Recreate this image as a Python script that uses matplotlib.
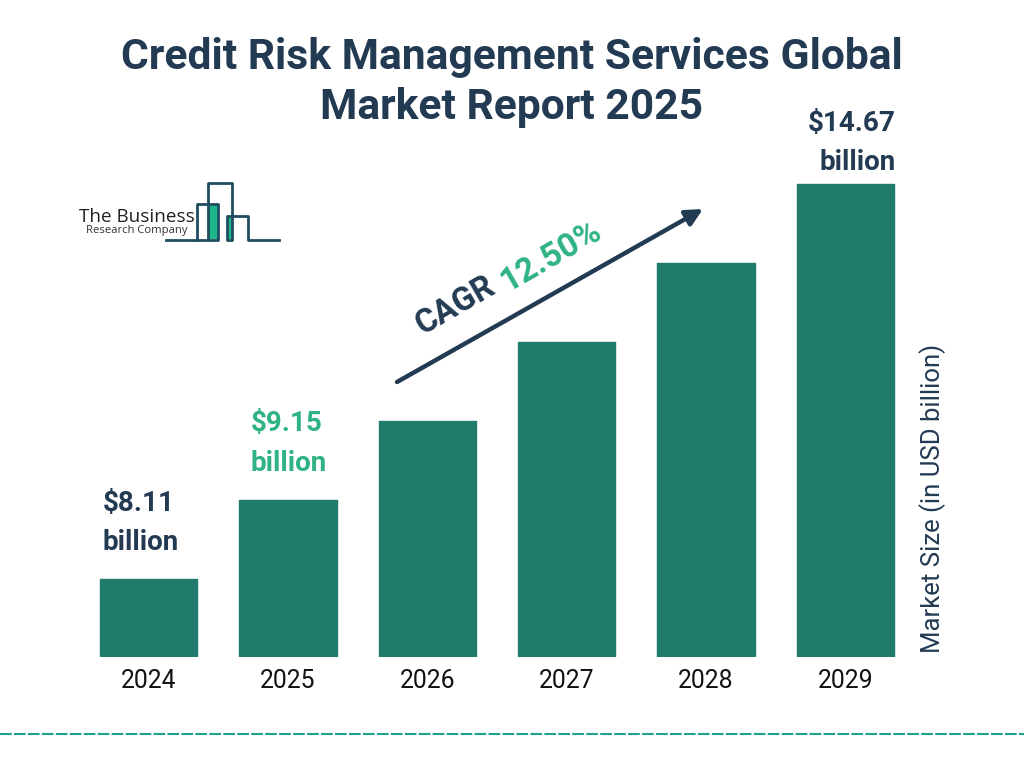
import matplotlib
matplotlib.use("Agg")
import matplotlib.pyplot as plt

plt.rcParams['font.family'] = ['Roboto', 'DejaVu Sans']

years = ['2024', '2025', '2026', '2027', '2028', '2029']
bar_heights = [78, 157, 236, 315, 394, 473]
value_first = ['$8.11', '$9.15', '$14.67']
value_second = ['billion', 'billion', 'billion']
label_colors = ['#233A53', '#2FB383', '#233A53']

W, H = 1024, 768
DARK = '#233A53'
BAR = '#217B6C'
GREEN = '#2FB383'
LOGO = '#1F4E5F'

fig = plt.figure(figsize=(W / 100, H / 100), dpi=100, facecolor='white')

# overlay in pixel coordinates for the title, logo and arrow
over = fig.add_axes([0, 0, 1, 1])
over.set_xlim(0, W)
over.set_ylim(H, 0)
over.axis('off')

# bar axes, placed so that category spacing and baseline land where they should
left, right, base, top = 79, 915, 657, 150
ax = fig.add_axes([left / W, 1 - base / H, (right - left) / W, (base - top) / H])
ax.patch.set_alpha(0)
ax.bar(range(6), bar_heights, width=0.7, color=BAR, edgecolor=BAR, linewidth=1, joinstyle='round')
ax.set_xlim(-0.5, 5.5)
ax.set_ylim(0, base - top)
for s in ax.spines.values():
    s.set_visible(False)
ax.set_yticks([])
ax.set_xticks(range(6))
ax.set_xticklabels(years, fontsize=17.8, color='#111111')
ax.tick_params(axis='x', length=0, pad=9)

over.text(512, 57, 'Credit Risk Management Services Global', fontsize=30.7, fontweight='bold', color=DARK, ha='center', va='center')
over.text(512, 108, 'Market Report 2025', fontsize=30.7, fontweight='bold', color=DARK, ha='center', va='center')

# value labels, the last one hangs off the right edge of its bar
label_places = [(103, 503, 'left'), (251, 424, 'left'), (895.5, 123, 'right')]
for i, (px, py, align) in enumerate(label_places):
    over.text(px, py, value_first[i], fontsize=20, fontweight='bold', color=label_colors[i], ha=align, va='center')
    over.text(px, py + 39.5, value_second[i], fontsize=20, fontweight='bold', color=label_colors[i], ha=align, va='center')

# CAGR arrow and text
over.annotate('', xy=(703, 209), xytext=(397, 382),
              arrowprops=dict(arrowstyle='-|>,head_length=1.0,head_width=0.5', color=DARK, lw=3.2, shrinkA=0, shrinkB=0))
over.text(455, 306, 'CAGR', fontsize=23.5, fontweight='bold', color=DARK, rotation=30, ha='center', va='center', rotation_mode='anchor')
over.text(551, 256, '12.50%', fontsize=24, fontweight='bold', color=GREEN, rotation=30, ha='center', va='center', rotation_mode='anchor')

over.text(933, 498, 'Market Size (in USD billion)', fontsize=18.5, color=DARK, rotation=90, ha='center', va='center')

# logo
over.fill_between([209, 217.5], 205, 239, color='#1FB58A', lw=0)
over.fill_between([228, 231.5], 217, 239, color='#1FB58A', lw=0)
over.plot([166, 197, 197, 218, 218, 197], [240, 240, 204, 204, 240, 240], color=LOGO, lw=2)
over.plot([208, 208, 232, 232, 227, 227, 248, 248, 279], [240, 183, 183, 240, 240, 216, 216, 240, 240], color=LOGO, lw=2)
over.text(79, 217, 'The Business', fontsize=13.6, color='#222222', ha='left', va='center', family='Open Sans', zorder=5)
over.text(86, 231, 'Research Company', fontsize=8.1, color='#333333', ha='left', va='center', family='Open Sans', zorder=5)

# dashed rule along the bottom
over.plot([0, W], [734, 734], color='#1FA193', lw=1.5, dashes=(5.6, 1.1))

fig.savefig('out.png', dpi=100)
